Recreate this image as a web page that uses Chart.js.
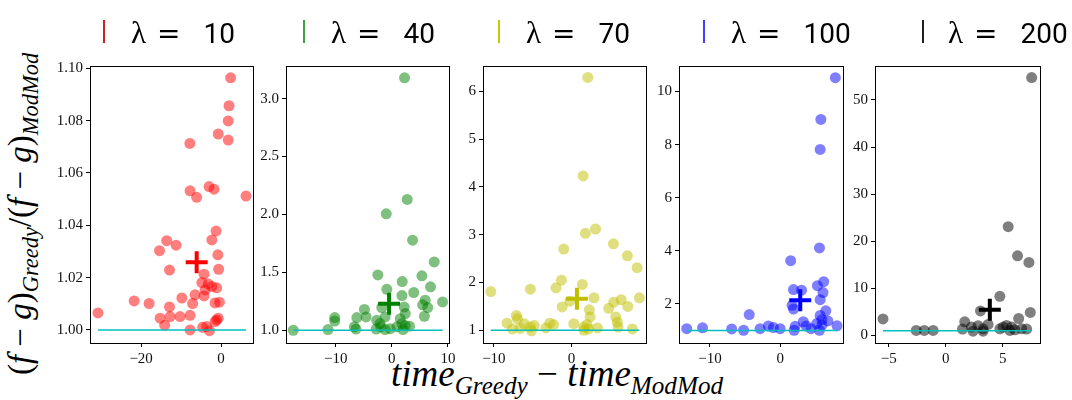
<!DOCTYPE html>
<html>
<head>
<meta charset="utf-8">
<script src="https://cdn.jsdelivr.net/npm/chart.js@4.4.1/dist/chart.umd.min.js"></script>
<style>
  body { margin: 0; background: #fff; }
  #fig { position: relative; width: 1072px; height: 400px; overflow: hidden; background: #fff; }
  #fig canvas { position: absolute; left: 0; top: 0; }
  .leg { position: absolute; top: 15px; font-family: Roboto, "Liberation Sans", sans-serif; font-size: 28px; color: #000; white-space: pre; }
  .leg .lam { font-family: "Liberation Serif", serif; font-size: 31px; }
  .leg .eq { font-family: "DejaVu Sans", sans-serif; font-size: 28px; margin-left: 11px; margin-right: 23px; }
  .handle { position: absolute; top: 20px; width: 2px; height: 23px; }
  #ytitle { position: absolute; left: 23px; top: 214px; transform: translate(-50%, -50%) rotate(-90deg);
            font-family: "Liberation Serif", serif; font-style: italic; font-size: 33px; white-space: nowrap; }
  #xtitle { position: absolute; left: 557px; top: 376px; transform: translate(-50%, -50%);
            font-family: "Liberation Serif", serif; font-style: italic; font-size: 37px; white-space: nowrap; }
  sub { font-size: 68%; vertical-align: -0.32em; }
  .up { font-style: normal; }
</style>
</head>
<body>
<div id="fig">
  <div id="ytitle"><span class="up">(</span>f <span class="up">−</span> g<span class="up">)</span><sub>Greedy</sub><span class="up">/(</span>f <span class="up">−</span> g<span class="up">)</span><sub>ModMod</sub></div>
  <div id="xtitle">time<sub>Greedy</sub> <span class="up">−</span> time<sub>ModMod</sub></div>
</div>
<script>
// valores
const lambdas = [10, 40, 70, 100, 200];

const x10 = [2.4, 2.0, 1.8, -0.7, 1.8, -7.8, -7.75, -6.1, -3.0, -1.75, 6.25, -1.25, -2.3, -13.6, -11.25, -15.4, -0.8, -12.9, -0.6, -4.25,
             -4.8, -3.2, -2.3, -1.1, -4.0, -4.25, -6.5, -21.75, -18, -9.8, -7.1, -1.5, -0.4, -12.9, -30.8, -15.25, -12.75, -10.25, -7.75, -0.7,
             -1.5, -14.1, -7.75, -4.6, -3.6, -2.9, -1.1];
const y10 = [1.0964, 1.0857, 1.0799, 1.0749, 1.0726, 1.0713, 1.0532, 1.0507, 1.0548, 1.0538, 1.0512, 1.0378, 1.0344, 1.0341, 1.0324, 1.0303, 1.0287, 1.0229, 1.0232, 1.0213,
             1.0181, 1.0176, 1.0166, 1.0161, 1.0153, 1.0130, 1.0134, 1.0111, 1.0101, 1.0122, 1.0101, 1.0103, 1.0106, 1.0088, 1.0065, 1.0045, 1.0051, 1.0051, 1.0056, 1.0045,
             1.0032, 1.0018, 1.0000, 1.0010, 1.0013, 0.9997, 1.0038];

const x40 = [2.26, 2.74, -1.0, 3.7, 7.56, -2.5, 5.36, 1.85, 6.9, -0.9, 3.9, 1.8, 9.05, 5.95, 5.5, 6.4, 2.2, -1.8, -4.9, -4.6,
             -6.25, -10.2, -10.2, 5.8, 2.4, -1.2, -2.7, -2.1, -17.6, -11.4, -6.7, -6.4, -2.8, -2.0, -1.2, -0.3, 0.9, 1.8, 2.0, 2.4,
             3.15, 1.5];
const y40 = [3.18, 2.13, 2.006, 1.778, 1.59, 1.478, 1.47, 1.42, 1.375, 1.354, 1.326, 1.30, 1.245, 1.26, 1.22, 1.196, 1.20, 1.196, 1.18, 1.115,
             1.11, 1.11, 1.08, 1.12, 1.144, 1.115, 1.086, 1.058, 1.0, 1.006, 1.03, 1.01, 1.01, 1.03, 1.006, 1.014, 1.03, 1.058, 1.006, 1.04,
             1.035, 1.10];

const x70 = [2.1, 1.5, 1.8, 3.1, 5.4, 7.2, 8.45, -1.0, -1.3, -2.0, 1.4, -10.4, -5.3, 8.75, 2.9, 6.4, 5.45, -0.2, -1.2, 7.25,
             4.8, 2.3, -7.1, -8.3, -6.95, -6.1, -7.6, -6.6, -5.3, -5.15, -4.8, -3.3, -2.8, -2.3, 0.3, 2.4, 2.0, 1.6, 2.2, 3.35,
             5.7, 5.9, 6.0, 7.85, 1.6];
const y70 = [6.29, 4.23, 3.03, 3.12, 2.81, 2.56, 2.31, 2.70, 2.05, 1.89, 1.96, 1.81, 1.86, 1.68, 1.68, 1.64, 1.59, 1.61, 1.49, 1.50,
             1.46, 1.43, 1.31, 1.15, 1.24, 1.14, 1.03, 1.04, 1.07, 0.99, 1.10, 1.05, 1.15, 1.12, 1.14, 1.28, 1.12, 1.0, 1.03, 1.05,
             1.28, 1.17, 1.07, 1.03, 1.07];

const x100 = [7.86, 5.8, 5.7, 5.6, 1.5, 6.2, 5.3, 1.9, 3.05, 6.1, 5.7, 1.9, 1.7, 6.5, 5.7, -4.4, 5.95, 6.8, 3.3, -13.3,
              -11.05, -6.9, -5.2, -2.86, -1.67, -0.95, 0, 2.14, 2.0, 3.7, 4.4, 5.6, 8.1, 5.95, 5.2];
const y100 = [10.52, 8.95, 7.82, 4.11, 3.63, 2.84, 2.69, 2.54, 2.52, 2.43, 2.16, 1.81, 1.95, 1.74, 1.57, 1.60, 1.41, 1.36, 1.33, 1.07,
              1.10, 1.06, 1.01, 1.07, 1.17, 1.11, 1.07, 1.16, 1.01, 1.17, 1.07, 1.01, 1.18, 1.20, 1.26];

const x200 = [7.54, 5.48, 6.3, 7.3, 4.75, 3.05, 7.42, 6.4, -5.5, 1.67, -2.58, -1.88, -1.1, 1.47, 2.26, 2.84, 3.28, 2.4, 3.72, 5.04,
              5.34, 5.78, 6.07, 6.66, 7.1, 5.63, 4.75, 3.28];
const y200 = [54.75, 23.1, 16.9, 15.5, 8.3, 5.2, 4.9, 3.6, 3.5, 2.9, 1.06, 1.06, 1.06, 1.35, 1.77, 2.06, 1.42, 0.92, 2.34, 1.77,
              2.13, 1.77, 1.2, 1.42, 1.35, 1.06, 1.42, 0.92];

// médias (cruz)
const meanX = [-6.1, -0.5, 0.7, 2.86, 3.87];
const meanY = [1.0259, 1.23, 1.66, 2.14, 5.46];

// marcas dos eixos
const xTicks10 = [-20, 0], xTicks40 = [-10, 0, 10], xTicks70 = [-10, 0], xTicks100 = [-10, 0], xTicks200 = [-5, 0, 5];
const yTicks10 = [1.00, 1.02, 1.04, 1.06, 1.08, 1.10];
const yTicks40 = [1.0, 1.5, 2.0, 2.5, 3.0];
const yTicks70 = [1, 2, 3, 4, 5, 6];
const yTicks100 = [2, 4, 6, 8, 10];
const yTicks200 = [0, 10, 20, 30, 40, 50];

const paineis = [
  { xs: x10,  ys: y10,  xt: xTicks10,  yt: yTicks10,  dec: 2, cor: '255,0,0',   cruz: '#ff0000', leg: '#d02020', left: 90,  right: 253,  xr: [-32.8, 8.0],  yr: [0.995, 1.1009] },
  { xs: x40,  ys: y40,  xt: xTicks40,  yt: yTicks40,  dec: 1, cor: '0,128,0',   cruz: '#008000', leg: '#40a040', left: 286, right: 449,  xr: [-18.9, 10.2], yr: [0.89, 3.282] },
  { xs: x70,  ys: y70,  xt: xTicks70,  yt: yTicks70,  dec: 0, cor: '191,191,0', cruz: '#bfbf00', leg: '#c8c800', left: 483, right: 646,  xr: [-11.4, 9.6],  yr: [0.735, 6.53] },
  { xs: x100, ys: y100, xt: xTicks100, yt: yTicks100, dec: 0, cor: '0,0,255',   cruz: '#0000ff', leg: '#4040ff', left: 679, right: 843,  xr: [-14.4, 8.95], yr: [0.53, 10.96] },
  { xs: x200, ys: y200, xt: xTicks200, yt: yTicks200, dec: 0, cor: '0,0,0',     cruz: '#000000', leg: '#202020', left: 875, right: 1040, xr: [-6.2, 8.27],  yr: [-1.6, 57.2] }
];
const legPos = [[103, 131], [303, 331], [498, 526], [703, 731], [922, 948]];

const caixa = {
  id: 'caixa',
  afterDraw(chart) {
    const a = chart.chartArea, c = chart.ctx;
    c.save();
    c.strokeStyle = '#000';
    c.lineWidth = 1;
    c.strokeRect(Math.round(a.left) + 0.5, Math.round(a.top) + 0.5, Math.round(a.right - a.left), Math.round(a.bottom - a.top));
    c.restore();
  }
};

const fig = document.getElementById('fig');
const fonteTick = { family: "'Liberation Serif', serif", size: 15 };
const menos = v => String(v).replace('-', '\u2212');
const TOPO = 66, BASE = 343;

paineis.forEach((p, i) => {
  const cv = document.createElement('canvas');
  cv.width = 1072;
  cv.height = 400;
  fig.appendChild(cv);

  const pontos = p.xs.map((x, k) => ({ x: x, y: p.ys[k] }));
  const xmin = Math.min(...p.xs), xmax = Math.max(...p.xs);

  new Chart(cv.getContext('2d'), {
    type: 'scatter',
    data: {
      datasets: [
        { data: [{ x: meanX[i], y: meanY[i] }], pointStyle: 'cross', pointRadius: 11, borderWidth: 4,
          borderColor: p.cruz, backgroundColor: p.cruz, order: 0 },
        { type: 'line', data: [{ x: xmin, y: 1 }, { x: xmax, y: 1 }], borderColor: '#00bfbf', borderWidth: 1.5,
          pointRadius: 0, fill: false, order: 1 },
        { data: pontos, backgroundColor: 'rgba(' + p.cor + ',0.5)', borderWidth: 0, pointRadius: 5.5, order: 2 }
      ]
    },
    options: {
      responsive: false,
      animation: false,
      events: [],
      layout: { padding: { top: TOPO, bottom: 400 - BASE - 25, left: p.left - 50, right: 1072 - p.right } },
      plugins: { legend: { display: false }, tooltip: { enabled: false } },
      scales: {
        x: {
          type: 'linear', min: p.xr[0], max: p.xr[1],
          afterBuildTicks: s => { s.ticks = p.xt.map(v => ({ value: v })); },
          afterFit: s => { s.height = 25; },
          grid: { drawOnChartArea: false, drawTicks: true, tickLength: 4, color: '#000' },
          border: { display: false },
          ticks: { font: fonteTick, color: '#111', padding: 3, maxRotation: 0, callback: v => menos(v) }
        },
        y: {
          type: 'linear', min: p.yr[0], max: p.yr[1],
          afterBuildTicks: s => { s.ticks = p.yt.map(v => ({ value: v })); },
          afterFit: s => { s.width = 50; },
          grid: { drawOnChartArea: false, drawTicks: true, tickLength: 4, color: '#000' },
          border: { display: false },
          ticks: { font: fonteTick, color: '#111', padding: 3, callback: v => v.toFixed(p.dec) }
        }
      }
    },
    plugins: [caixa]
  });

  const h = document.createElement('div');
  h.className = 'handle';
  h.style.left = legPos[i][0] + 'px';
  h.style.background = p.leg;
  fig.appendChild(h);
  const t = document.createElement('div');
  t.className = 'leg';
  t.style.left = legPos[i][1] + 'px';
  t.innerHTML = '<span class="lam">\u03bb</span><span class="eq">=</span>' + lambdas[i];
  fig.appendChild(t);
});
</script>
</body>
</html>
